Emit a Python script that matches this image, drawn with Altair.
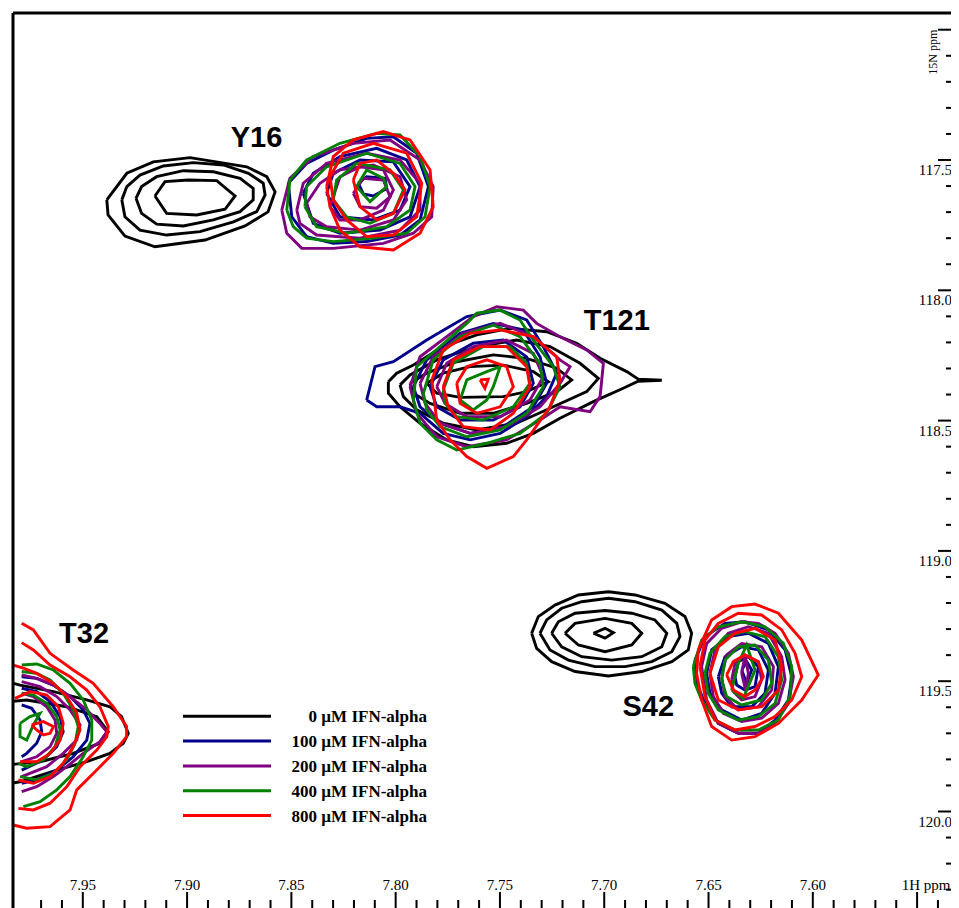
import altair as alt
import pandas as pd

# ---------------- series ----------------
SERIES = ["0 µM IFN-alpha", "100 µM IFN-alpha", "200 µM IFN-alpha",
          "400 µM IFN-alpha", "800 µM IFN-alpha"]
COLORS = ["#000000", "#00008b", "#800080", "#008000", "#ff0000"]

# ---------------- contour vertices (1H ppm, 15N ppm) ----------------
Y16_BLACK = [
    [(7.9385,117.653),(7.9289,117.551),(7.9162,117.507),(7.8986,117.491),(7.8714,117.526),(7.8618,117.564),(7.8578,117.622),(7.8612,117.699),(7.8722,117.753),(7.8914,117.807),(7.9154,117.833),(7.9298,117.792),(7.9379,117.711)],
    [(7.9313,117.653),(7.9289,117.602),(7.9226,117.558),(7.9114,117.523),(7.8970,117.510),(7.8826,117.519),(7.8706,117.551),(7.8635,117.589),(7.8626,117.634),(7.8666,117.698),(7.8778,117.737),(7.8938,117.775),(7.9098,117.788),(7.9226,117.769),(7.9298,117.718)],
    [(7.9245,117.647),(7.9218,117.602),(7.9146,117.564),(7.9018,117.541),(7.8874,117.545),(7.8746,117.570),(7.8683,117.609),(7.8683,117.653),(7.8746,117.698),(7.8874,117.730),(7.9018,117.753),(7.9146,117.746),(7.9218,117.705)],
    [(7.9154,117.638),(7.9106,117.583),(7.8994,117.577),(7.8858,117.579),(7.8770,117.638),(7.8818,117.689),(7.8954,117.711),(7.9098,117.705)],
]
Y16_BLUE = [
    [(7.8515,117.589),(7.8427,117.513),(7.8299,117.462),(7.8139,117.417),(7.8011,117.411),(7.7899,117.474),(7.7843,117.602),(7.7883,117.730),(7.7979,117.788),(7.8139,117.813),(7.8299,117.820),(7.8427,117.794),(7.8498,117.718)],
    [(7.8443,117.628),(7.8395,117.551),(7.8267,117.487),(7.8091,117.455),(7.7947,117.500),(7.7883,117.602),(7.7931,117.718),(7.8075,117.769),(7.8267,117.781),(7.8395,117.743)],
    [(7.8331,117.628),(7.8299,117.551),(7.8171,117.500),(7.8011,117.507),(7.7931,117.602),(7.7979,117.692),(7.8107,117.730),(7.8267,117.718)],
    [(7.8179,117.589),(7.8139,117.564),(7.8051,117.570),(7.8043,117.609),(7.8107,117.638),(7.8155,117.630)],
]
Y16_PURPLE = [
    [(7.8546,117.692),(7.8507,117.570),(7.8395,117.487),(7.8203,117.436),(7.8027,117.423),(7.7883,117.500),(7.7820,117.602),(7.7827,117.718),(7.7915,117.781),(7.8059,117.820),(7.8299,117.839),(7.8450,117.839),(7.8522,117.781)],
    [(7.8474,117.692),(7.8443,117.589),(7.8331,117.513),(7.8139,117.474),(7.7979,117.500),(7.7883,117.589),(7.7883,117.692),(7.7979,117.769),(7.8171,117.800),(7.8379,117.788),(7.8459,117.743)],
    [(7.8427,117.666),(7.8363,117.589),(7.8267,117.538),(7.8107,117.519),(7.7979,117.564),(7.7947,117.653),(7.8011,117.730),(7.8171,117.769),(7.8331,117.756),(7.8411,117.718)],
    [(7.8315,117.679),(7.8267,117.564),(7.8171,117.526),(7.8059,117.538),(7.8011,117.615),(7.8059,117.692),(7.8171,117.730),(7.8267,117.730)],
    [(7.8203,117.628),(7.8155,117.570),(7.8059,117.577),(7.8027,117.641),(7.8091,117.685),(7.8171,117.679)],
]
Y16_GREEN = [
    [(7.8522,117.692),(7.8507,117.577),(7.8427,117.500),(7.8267,117.436),(7.8091,117.398),(7.7979,117.404),(7.7883,117.487),(7.7835,117.602),(7.7859,117.718),(7.7947,117.781),(7.8107,117.800),(7.8299,117.813),(7.8427,117.800),(7.8491,117.756)],
    [(7.8435,117.679),(7.8427,117.602),(7.8331,117.526),(7.8139,117.474),(7.7979,117.513),(7.7907,117.602),(7.7931,117.692),(7.8043,117.756),(7.8235,117.781),(7.8379,117.756)],
    [(7.8299,117.653),(7.8283,117.577),(7.8187,117.513),(7.8027,117.538),(7.7963,117.615),(7.8011,117.705),(7.8123,117.743),(7.8235,117.718)],
    [(7.8187,117.602),(7.8139,117.538),(7.8059,117.570),(7.8043,117.602),(7.8123,117.660)],
]
Y16_RED = [
    [(7.8331,117.602),(7.8299,117.487),(7.8203,117.423),(7.8059,117.391),(7.7931,117.423),(7.7835,117.538),(7.7820,117.679),(7.7883,117.781),(7.8011,117.845),(7.8171,117.833),(7.8267,117.769),(7.8315,117.679)],
    [(7.8315,117.564),(7.8251,117.474),(7.8107,117.436),(7.7947,117.474),(7.7875,117.589),(7.7899,117.718),(7.8011,117.788),(7.8139,117.794),(7.8235,117.730),(7.8299,117.653)],
    [(7.8203,117.577),(7.8171,117.513),(7.8091,117.500),(7.8011,117.551),(7.7955,117.615),(7.8011,117.705),(7.8091,117.730),(7.8171,117.679)],
]

T121_BLACK = [
    [(7.8035,118.351),(7.7995,118.318),(7.7915,118.287),(7.7772,118.216),(7.7611,118.171),(7.7452,118.146),(7.7276,118.159),(7.7132,118.203),(7.7020,118.261),(7.6892,118.312),(7.6837,118.341),(7.6724,118.345),(7.6837,118.349),(7.6909,118.376),(7.7052,118.427),(7.7212,118.491),(7.7340,118.549),(7.7468,118.587),(7.7628,118.600),(7.7755,118.574),(7.7883,118.510),(7.7979,118.447),(7.8035,118.395)],
    [(7.7979,118.363),(7.7931,118.325),(7.7803,118.267),(7.7611,118.216),(7.7420,118.191),(7.7260,118.216),(7.7116,118.280),(7.7028,118.338),(7.7084,118.389),(7.7244,118.447),(7.7420,118.510),(7.7611,118.536),(7.7772,118.510),(7.7899,118.459),(7.7963,118.408)],
    [(7.7931,118.357),(7.7851,118.318),(7.7707,118.274),(7.7532,118.248),(7.7372,118.261),(7.7228,118.299),(7.7156,118.344),(7.7228,118.389),(7.7372,118.434),(7.7532,118.472),(7.7691,118.472),(7.7835,118.434),(7.7915,118.395)],
    [(7.7851,118.357),(7.7772,118.318),(7.7643,118.293),(7.7484,118.287),(7.7340,118.312),(7.7268,118.351),(7.7372,118.389),(7.7484,118.408),(7.7691,118.411),(7.7803,118.395)],
]
T121_BLUE = [
    [(7.8139,118.421),(7.8099,118.293),(7.8011,118.274),(7.7851,118.191),(7.7659,118.101),(7.7499,118.076),(7.7372,118.114),(7.7292,118.216),(7.7228,118.318),(7.7276,118.408),(7.7372,118.485),(7.7499,118.549),(7.7643,118.574),(7.7772,118.549),(7.7883,118.472),(7.7979,118.447),(7.8091,118.447)],
    [(7.7915,118.370),(7.7851,118.267),(7.7691,118.165),(7.7532,118.127),(7.7388,118.152),(7.7308,118.255),(7.7276,118.357),(7.7340,118.447),(7.7484,118.523),(7.7643,118.549),(7.7787,118.510),(7.7883,118.447)],
    [(7.7835,118.370),(7.7772,118.267),(7.7628,118.203),(7.7484,118.191),(7.7372,118.255),(7.7340,118.357),(7.7404,118.447),(7.7532,118.498),(7.7691,118.498),(7.7803,118.447)],
]
T121_PURPLE = [
    [(7.7931,118.370),(7.7883,118.255),(7.7755,118.178),(7.7628,118.101),(7.7515,118.063),(7.7388,118.076),(7.7324,118.127),(7.7212,118.178),(7.7084,118.229),(7.7004,118.280),(7.7020,118.408),(7.7068,118.466),(7.7212,118.447),(7.7308,118.498),(7.7468,118.574),(7.7659,118.600),(7.7803,118.562),(7.7899,118.472)],
    [(7.7883,118.357),(7.7820,118.255),(7.7676,118.165),(7.7499,118.127),(7.7340,118.178),(7.7212,118.267),(7.7164,118.293),(7.7212,118.357),(7.7308,118.447),(7.7468,118.523),(7.7643,118.549),(7.7787,118.510),(7.7859,118.434)],
    [(7.7803,118.370),(7.7755,118.280),(7.7628,118.216),(7.7468,118.191),(7.7340,118.242),(7.7292,118.332),(7.7356,118.421),(7.7499,118.485),(7.7659,118.485),(7.7763,118.434)],
]
T121_GREEN = [
    [(7.7915,118.421),(7.7899,118.293),(7.7787,118.216),(7.7659,118.127),(7.7611,118.088),(7.7499,118.076),(7.7404,118.114),(7.7340,118.191),(7.7244,118.293),(7.7212,118.370),(7.7276,118.472),(7.7404,118.549),(7.7563,118.587),(7.7707,118.613),(7.7803,118.574),(7.7883,118.510)],
    [(7.7867,118.395),(7.7820,118.267),(7.7691,118.178),(7.7532,118.133),(7.7404,118.178),(7.7308,118.280),(7.7292,118.370),(7.7372,118.472),(7.7499,118.536),(7.7659,118.562),(7.7787,118.523),(7.7851,118.459)],
    [(7.7772,118.383),(7.7724,118.280),(7.7580,118.216),(7.7452,118.216),(7.7372,118.280),(7.7356,118.357),(7.7436,118.447),(7.7580,118.498),(7.7707,118.485),(7.7763,118.434)],
    [(7.7691,118.421),(7.7659,118.344),(7.7563,118.312),(7.7499,118.293),(7.7532,118.370),(7.7563,118.421),(7.7628,118.459)],
]
T121_RED = [
    [(7.7827,118.344),(7.7772,118.229),(7.7643,118.165),(7.7499,118.152),(7.7340,118.178),(7.7228,118.255),(7.7212,118.344),(7.7260,118.447),(7.7372,118.574),(7.7436,118.638),(7.7563,118.683),(7.7659,118.638),(7.7739,118.574),(7.7803,118.498)],
    [(7.7772,118.370),(7.7724,118.267),(7.7595,118.216),(7.7468,118.216),(7.7372,118.293),(7.7356,118.370),(7.7436,118.472),(7.7547,118.536),(7.7676,118.523),(7.7748,118.447)],
    [(7.7707,118.357),(7.7659,118.293),(7.7563,118.267),(7.7468,118.293),(7.7436,118.370),(7.7499,118.447),(7.7611,118.472),(7.7691,118.434)],
    [(7.7595,118.344),(7.7556,118.341),(7.7572,118.376)],
]

S42_BLACK = [
    [(7.7348,119.316),(7.7316,119.252),(7.7236,119.208),(7.7124,119.169),(7.6980,119.157),(7.6852,119.169),(7.6709,119.201),(7.6613,119.252),(7.6581,119.316),(7.6597,119.380),(7.6676,119.425),(7.6820,119.463),(7.6980,119.480),(7.7140,119.463),(7.7252,119.425),(7.7324,119.374)],
    [(7.7308,119.316),(7.7276,119.265),(7.7204,119.220),(7.7108,119.195),(7.6980,119.182),(7.6852,119.195),(7.6724,119.227),(7.6652,119.278),(7.6637,119.329),(7.6676,119.387),(7.6772,119.425),(7.6900,119.444),(7.7044,119.444),(7.7172,119.419),(7.7260,119.380)],
    [(7.7252,119.316),(7.7220,119.272),(7.7140,119.239),(7.6996,119.229),(7.6868,119.239),(7.6757,119.265),(7.6700,119.316),(7.6724,119.368),(7.6820,119.406),(7.6964,119.419),(7.7108,119.406),(7.7204,119.368)],
    [(7.7188,119.316),(7.7140,119.278),(7.6996,119.259),(7.6868,119.278),(7.6820,119.316),(7.6868,119.361),(7.6996,119.387),(7.7124,119.361)],
    [(7.7052,119.316),(7.6996,119.297),(7.6956,119.314),(7.6996,119.335)],
]
S42_BLUE = [
    [(7.6565,119.419),(7.6517,119.329),(7.6421,119.278),(7.6325,119.272),(7.6213,119.303),(7.6133,119.380),(7.6101,119.483),(7.6117,119.572),(7.6181,119.649),(7.6261,119.700),(7.6357,119.700),(7.6453,119.662),(7.6517,119.585),(7.6557,119.508)],
    [(7.6509,119.470),(7.6485,119.380),(7.6405,119.329),(7.6309,119.316),(7.6213,119.355),(7.6165,119.444),(7.6181,119.546),(7.6245,119.623),(7.6341,119.649),(7.6437,119.610),(7.6493,119.546)],
    [(7.6453,119.483),(7.6421,119.406),(7.6341,119.368),(7.6261,119.380),(7.6213,119.457),(7.6229,119.546),(7.6293,119.598),(7.6389,119.598),(7.6437,119.546)],
    [(7.6373,119.483),(7.6357,119.425),(7.6309,119.406),(7.6261,119.444),(7.6277,119.521),(7.6325,119.534),(7.6365,119.515)],
    [(7.6341,119.457),(7.6317,119.425),(7.6293,119.457),(7.6317,119.508)],
]
S42_PURPLE = [
    [(7.6533,119.444),(7.6509,119.355),(7.6437,119.297),(7.6341,119.272),(7.6261,119.278),(7.6181,119.316),(7.6117,119.393),(7.6093,119.483),(7.6117,119.585),(7.6181,119.662),(7.6261,119.700),(7.6357,119.700),(7.6453,119.662),(7.6509,119.572)],
    [(7.6493,119.470),(7.6469,119.380),(7.6405,119.316),(7.6309,119.291),(7.6213,119.316),(7.6149,119.406),(7.6133,119.495),(7.6165,119.585),(7.6245,119.642),(7.6341,119.655),(7.6429,119.623),(7.6477,119.559)],
    [(7.6437,119.483),(7.6413,119.399),(7.6341,119.355),(7.6245,119.368),(7.6189,119.444),(7.6197,119.534),(7.6261,119.598),(7.6357,119.610),(7.6421,119.559)],
    [(7.6389,119.495),(7.6373,119.431),(7.6325,119.399),(7.6261,119.425),(7.6245,119.495),(7.6277,119.559),(7.6341,119.572),(7.6381,119.540)],
    [(7.6341,119.470),(7.6325,119.399),(7.6309,119.470),(7.6322,119.534)],
]
S42_GREEN = [
    [(7.6573,119.444),(7.6533,119.342),(7.6453,119.291),(7.6341,119.272),(7.6229,119.291),(7.6141,119.355),(7.6101,119.444),(7.6109,119.559),(7.6165,119.649),(7.6261,119.687),(7.6373,119.687),(7.6469,119.649),(7.6533,119.572),(7.6565,119.508)],
    [(7.6517,119.470),(7.6493,119.393),(7.6421,119.329),(7.6325,119.310),(7.6229,119.329),(7.6165,119.406),(7.6149,119.495),(7.6181,119.585),(7.6261,119.636),(7.6357,119.649),(7.6453,119.610),(7.6501,119.546)],
    [(7.6437,119.495),(7.6421,119.419),(7.6357,119.368),(7.6277,119.361),(7.6213,119.419),(7.6197,119.508),(7.6245,119.572),(7.6341,119.591),(7.6413,119.559)],
    [(7.6389,119.534),(7.6357,119.431),(7.6317,119.361),(7.6277,119.457),(7.6333,119.566)],
]
S42_RED = [
    [(7.6549,119.380),(7.6485,119.265),(7.6389,119.214),(7.6277,119.204),(7.6165,119.239),(7.6053,119.342),(7.5974,119.476),(7.6053,119.572),(7.6165,119.662),(7.6277,119.713),(7.6389,119.726),(7.6485,119.674),(7.6533,119.572),(7.6557,119.470)],
    [(7.6541,119.444),(7.6517,119.342),(7.6453,119.278),(7.6357,119.239),(7.6245,119.246),(7.6149,119.303),(7.6085,119.393),(7.6053,119.483),(7.6101,119.572),(7.6181,119.636),(7.6277,119.674),(7.6373,119.687),(7.6469,119.649),(7.6517,119.559)],
    [(7.6493,119.470),(7.6453,119.368),(7.6373,119.316),(7.6277,119.297),(7.6181,119.342),(7.6149,119.444),(7.6165,119.534),(7.6245,119.598),(7.6357,119.610),(7.6453,119.572)],
    [(7.6413,119.476),(7.6381,119.425),(7.6325,119.399),(7.6261,119.425),(7.6237,119.483),(7.6277,119.534),(7.6325,119.559),(7.6381,119.534)],
]

# T32 sits at the spectral edge: contours are open polylines
T32_BLACK = [
    [(7.9945,119.483),(7.9801,119.515),(7.9641,119.540),(7.9481,119.572),(7.9370,119.598),(7.9314,119.636),(7.9282,119.700),(7.9306,119.738),(7.9370,119.777),(7.9481,119.809),(7.9625,119.841),(7.9801,119.886),(7.9945,119.905)],
    [(7.9945,119.585),(7.9769,119.572),(7.9577,119.598),(7.9433,119.636),(7.9378,119.694),(7.9418,119.738),(7.9546,119.777),(7.9705,119.809),(7.9945,119.828)],
]
T32_BLUE = [
    [(7.9793,119.483),(7.9721,119.489),(7.9641,119.515),(7.9561,119.559),(7.9498,119.610),(7.9466,119.662),(7.9481,119.726),(7.9546,119.790),(7.9625,119.841),(7.9721,119.879),(7.9793,119.892)],
    [(7.9793,119.527),(7.9721,119.540),(7.9657,119.578),(7.9609,119.636),(7.9594,119.694),(7.9625,119.751),(7.9689,119.802),(7.9793,119.841)],
    [(7.9793,119.591),(7.9745,119.604),(7.9705,119.649),(7.9697,119.694),(7.9721,119.738),(7.9769,119.777),(7.9793,119.790)],
]
T32_PURPLE = [
    [(7.9793,119.476),(7.9721,119.489),(7.9641,119.515),(7.9561,119.559),(7.9481,119.610),(7.9418,119.662),(7.9385,119.694),(7.9418,119.732),(7.9498,119.777),(7.9577,119.828),(7.9641,119.866),(7.9721,119.905),(7.9793,119.924)],
    [(7.9793,119.502),(7.9705,119.521),(7.9625,119.559),(7.9561,119.610),(7.9513,119.668),(7.9529,119.726),(7.9594,119.777),(7.9673,119.828),(7.9793,119.866)],
    [(7.9793,119.546),(7.9737,119.559),(7.9673,119.598),(7.9633,119.649),(7.9625,119.700),(7.9657,119.751),(7.9721,119.790),(7.9793,119.809)],
]
T32_GREEN = [
    [(7.9793,119.438),(7.9721,119.434),(7.9641,119.457),(7.9561,119.508),(7.9498,119.572),(7.9457,119.649),(7.9457,119.726),(7.9498,119.790),(7.9561,119.866),(7.9625,119.917),(7.9705,119.962),(7.9785,119.981)],
    [(7.9793,119.463),(7.9721,119.470),(7.9657,119.495),(7.9594,119.546),(7.9546,119.610),(7.9522,119.674),(7.9537,119.738),(7.9577,119.802),(7.9641,119.854),(7.9721,119.879),(7.9801,119.866)],
    [(7.9793,119.546),(7.9737,119.553),(7.9673,119.585),(7.9625,119.636),(7.9609,119.687),(7.9633,119.751),(7.9689,119.802),(7.9769,119.828),(7.9809,119.815)],
    [(7.9801,119.662),(7.9753,119.636),(7.9705,119.623),(7.9737,119.668),(7.9769,119.726),(7.9801,119.713),(7.9801,119.662)],
]
T32_RED = [
    [(7.9793,119.278),(7.9737,119.303),(7.9657,119.393),(7.9546,119.457),(7.9450,119.508),(7.9354,119.598),(7.9290,119.674),(7.9290,119.713),(7.9354,119.777),(7.9450,119.854),(7.9529,119.917),(7.9561,119.994),(7.9657,120.058),(7.9769,120.064),(7.9833,120.052),(7.9945,120.040)],
    [(7.9793,119.352),(7.9737,119.380),(7.9657,119.438),(7.9561,119.483),(7.9481,119.534),(7.9418,119.598),(7.9378,119.674),(7.9385,119.713),(7.9433,119.764),(7.9513,119.828),(7.9577,119.905),(7.9657,119.968),(7.9737,119.994),(7.9809,119.988)],
    [(7.9833,119.438),(7.9785,119.450),(7.9721,119.470),(7.9641,119.508),(7.9577,119.559),(7.9529,119.623),(7.9513,119.687),(7.9546,119.751),(7.9594,119.815),(7.9657,119.866),(7.9737,119.892),(7.9809,119.879)],
    [(7.9825,119.566),(7.9753,119.540),(7.9673,119.553),(7.9617,119.598),(7.9594,119.662),(7.9609,119.726),(7.9657,119.777),(7.9721,119.809),(7.9801,119.809)],
    [(7.9745,119.668),(7.9689,119.655),(7.9641,119.674),(7.9657,119.700),(7.9689,119.706),(7.9721,119.687),(7.9745,119.668)],
]

# ---------------- peak labels ----------------
PEAK_NAMES = ["Y16", "T121", "S42", "T32"]
PEAK_LABEL_H = [7.8667, 7.6940, 7.6789, 7.9494]
PEAK_LABEL_N = [117.416, 118.118, 119.598, 119.319]

# ---------------- axis ticks ----------------
X_MAJOR = [7.95, 7.90, 7.85, 7.80, 7.75, 7.70, 7.65, 7.60, 7.55]
X_MAJOR_TEXT = ["7.95", "7.90", "7.85", "7.80", "7.75", "7.70", "7.65", "7.60", "1H ppm"]
X_MINOR = [7.97, 7.96, 7.94, 7.93, 7.92, 7.91, 7.89, 7.88, 7.87, 7.86, 7.84, 7.83,
           7.82, 7.81, 7.79, 7.78, 7.77, 7.76, 7.74, 7.73, 7.72, 7.71, 7.69, 7.68,
           7.67, 7.66, 7.64, 7.63, 7.62, 7.61, 7.59, 7.58, 7.57, 7.56, 7.54]
Y_MAJOR = [117.0, 117.5, 118.0, 118.5, 119.0, 119.5, 120.0]
Y_MAJOR_TEXT = ["15N ppm", "117.5", "118.0", "118.5", "119.0", "119.5", "120.0"]
Y_MINOR = [117.1, 117.2, 117.3, 117.4, 117.6, 117.7, 117.8, 117.9, 118.1, 118.2,
           118.3, 118.4, 118.6, 118.7, 118.8, 118.9, 119.1, 119.2, 119.3, 119.4,
           119.6, 119.7, 119.8, 119.9, 120.1, 120.2, 120.3]

X_DOMAIN = [7.53374, 7.98347]
Y_DOMAIN = [116.9359, 120.3703]

W, H = 938, 895

# ---------------- build table ----------------
rows = []
peaks = [
    ("Y16", True, [Y16_BLACK, Y16_BLUE, Y16_PURPLE, Y16_GREEN, Y16_RED]),
    ("T121", True, [T121_BLACK, T121_BLUE, T121_PURPLE, T121_GREEN, T121_RED]),
    ("S42", True, [S42_BLACK, S42_BLUE, S42_PURPLE, S42_GREEN, S42_RED]),
    ("T32", False, [T32_BLACK, T32_BLUE, T32_PURPLE, T32_GREEN, T32_RED]),
]
for peak, closed, groups in peaks:
    for s, contours in enumerate(groups):
        for c, pts in enumerate(contours):
            seq = list(pts) + ([pts[0]] if closed else [])
            for k, (hx, ny) in enumerate(seq):
                rows.append({"s": s, "cid": f"{peak}-{s}-{c}", "ord": k, "h": hx, "n": ny})
df = pd.DataFrame(rows)

XS = alt.Scale(domain=X_DOMAIN, reverse=True, nice=False, zero=False)
YS = alt.Scale(domain=Y_DOMAIN, reverse=True, nice=False, zero=False)

layers = []
for s in [0, 1, 2, 3, 4]:
    layers.append(
        alt.Chart(df).transform_filter(alt.datum.s == s)
        .mark_line(color=COLORS[s], strokeWidth=2.9, clip=True)
        .encode(
            x=alt.X("h:Q", scale=XS, axis=None),
            y=alt.Y("n:Q", scale=YS, axis=None),
            detail="cid:N",
            order="ord:Q",
        )
    )

# peak labels
peak_df = pd.DataFrame({"name": PEAK_NAMES, "h": PEAK_LABEL_H, "n": PEAK_LABEL_N})
layers.append(
    alt.Chart(peak_df).mark_text(font="Liberation Sans", fontWeight="bold", fontSize=29,
                                 align="center", baseline="middle", color="black")
    .encode(x=alt.X("h:Q", scale=XS, axis=None), y=alt.Y("n:Q", scale=YS, axis=None), text="name:N")
)

# x ticks and labels (inside the frame, at the bottom)
xmaj = pd.DataFrame({"v": X_MAJOR, "t": X_MAJOR_TEXT})
xmin = pd.DataFrame({"v": X_MINOR})
layers.append(alt.Chart(xmaj).mark_rule(color="black", strokeWidth=2)
              .encode(x=alt.X("v:Q", scale=XS, axis=None), y=alt.value(H), y2=alt.value(H - 16)))
layers.append(alt.Chart(xmin).mark_rule(color="black", strokeWidth=2)
              .encode(x=alt.X("v:Q", scale=XS, axis=None), y=alt.value(H), y2=alt.value(H - 8)))
layers.append(alt.Chart(xmaj).transform_filter(alt.datum.v > 7.57)
              .mark_text(font="Liberation Serif", fontSize=15, align="center", baseline="alphabetic", color="black")
              .encode(x=alt.X("v:Q", scale=XS, axis=None), y=alt.value(H - 18), text="t:N"))
layers.append(alt.Chart(xmaj).transform_filter(alt.datum.v < 7.57)
              .mark_text(font="Liberation Serif", fontSize=15, align="center", baseline="alphabetic", color="black", dx=9)
              .encode(x=alt.X("v:Q", scale=XS, axis=None), y=alt.value(H - 18), text="t:N"))

# y ticks and labels (inside the frame, on the right)
ymaj = pd.DataFrame({"v": Y_MAJOR, "t": Y_MAJOR_TEXT})
ymin = pd.DataFrame({"v": Y_MINOR})
layers.append(alt.Chart(ymaj).mark_rule(color="black", strokeWidth=2)
              .encode(y=alt.Y("v:Q", scale=YS, axis=None), x=alt.value(W), x2=alt.value(W - 13)))
layers.append(alt.Chart(ymin).mark_rule(color="black", strokeWidth=2)
              .encode(y=alt.Y("v:Q", scale=YS, axis=None), x=alt.value(W), x2=alt.value(W - 5)))
layers.append(alt.Chart(ymaj).transform_filter(alt.datum.v > 117.2)
              .mark_text(font="Liberation Serif", fontSize=15, align="right", baseline="top", color="black", dy=3)
              .encode(y=alt.Y("v:Q", scale=YS, axis=None), x=alt.value(W + 1), text="t:N"))
layers.append(alt.Chart(ymaj).transform_filter(alt.datum.v < 117.2)
              .mark_text(font="Liberation Serif", fontSize=12, align="right", baseline="middle", color="black", angle=270)
              .encode(y=alt.Y("v:Q", scale=YS, axis=None), x=alt.value(W - 18), text="t:N"))

# frame (left and top edges)
one = pd.DataFrame({"a": [0]})
layers.append(alt.Chart(one).mark_rule(color="black", strokeWidth=3)
              .encode(x=alt.value(0), y=alt.value(0), y2=alt.value(H)))
layers.append(alt.Chart(one).mark_rule(color="black", strokeWidth=3)
              .encode(x=alt.value(0), x2=alt.value(W), y=alt.value(0)))

# legend
leg = pd.DataFrame({"i": [0, 1, 2, 3, 4], "series": SERIES})
cscale = alt.Scale(domain=SERIES, range=COLORS)
layers.append(alt.Chart(leg).transform_calculate(ly="703.3 + 24.8 * datum.i")
              .mark_rule(strokeWidth=3)
              .encode(x=alt.value(170), x2=alt.value(258), y=alt.Y("ly:Q", scale=None, axis=None),
                      color=alt.Color("series:N", scale=cscale, legend=None)))
layers.append(alt.Chart(leg).transform_calculate(ly="703.3 + 24.8 * datum.i")
              .mark_text(font="Liberation Serif", fontWeight="bold", fontSize=17, align="right",
                         baseline="middle", color="black", dy=1)
              .encode(x=alt.value(414), y=alt.Y("ly:Q", scale=None, axis=None), text="series:N"))

chart = (
    alt.layer(*layers)
    .properties(width=W, height=H, padding={"left": 5, "top": 5, "right": 0, "bottom": 0},
                autosize=alt.AutoSizeParams(type="none"), background="white")
    .configure_view(strokeWidth=0)
)

chart.save("out.html", embed_options={"renderer": "svg", "actions": False})
